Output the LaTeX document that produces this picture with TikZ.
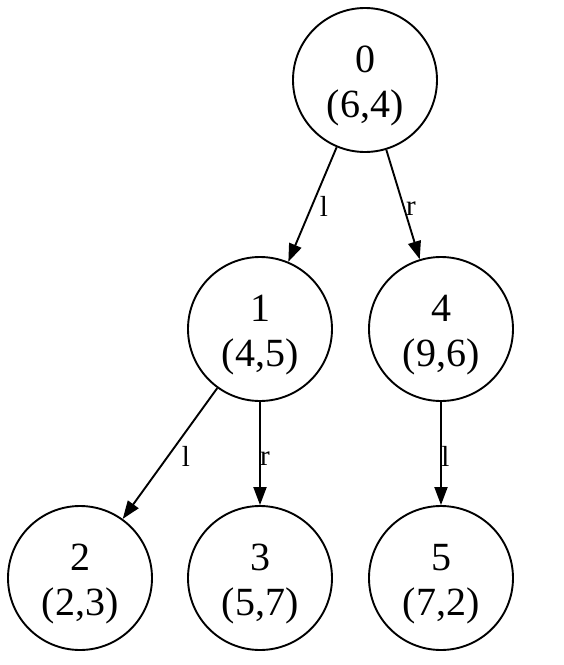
\documentclass[tikz,border=0pt]{standalone}
\usepackage{fontspec}
\setmainfont{Liberation Serif}
\usetikzlibrary{arrows.meta}
\begin{document}
\begin{tikzpicture}[x=1pt,y=-1pt,
  circ/.style={circle,draw,line width=1.9pt,minimum size=144pt,inner sep=0pt,align=center,
    font=\fontsize{40}{45}\selectfont,text height=74pt,text depth=0pt},
  conn/.style={-{Triangle[length=18pt,width=13pt]},line width=1.9pt},
  lbl/.style={font=\fontsize{29}{29}\selectfont,inner sep=0pt}]
\useasboundingbox (0,0) rectangle (564,665);
\node[circ] (n0) at (365,80) {0\\(6,4)};
\node[circ] (n1) at (260,329) {1\\(4,5)};
\node[circ] (n4) at (441,329) {4\\(9,6)};
\node[circ] (n2) at (80,578) {2\\(2,3)};
\node[circ] (n3) at (260,578) {3\\(5,7)};
\node[circ] (n5) at (441,578) {5\\(7,2)};
\draw[conn] (n0) -- node[lbl,xshift=11.5pt,yshift=-1.5pt] (e01) {l} (n1);
\draw[conn] (n0) -- node[lbl,xshift=8pt,yshift=-4pt] (e04) {r} (n4);
\draw[conn] (n1) -- node[lbl,xshift=16pt,yshift=-2.5pt] (e12) {l} (n2);
\draw[conn] (n1) -- node[lbl,xshift=5pt,yshift=-5pt] (e13) {r} (n3);
\draw[conn] (n4) -- node[lbl,xshift=4.5pt,yshift=-2.5pt] (e45) {l} (n5);
\end{tikzpicture}
\end{document}
